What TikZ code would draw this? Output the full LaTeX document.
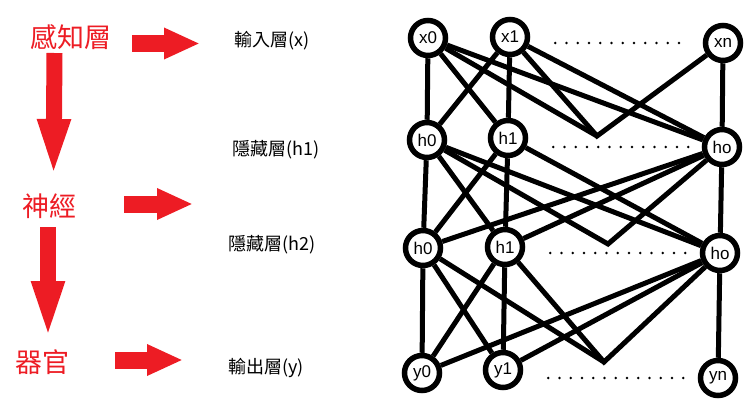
\documentclass[tikz,border=0pt]{standalone}
\usepackage{fontspec}
\setmainfont{Noto Sans CJK TC}
\newfontfamily\unitfont{Liberation Sans}
\usetikzlibrary{arrows.meta}
\definecolor{paintred}{RGB}{237,28,36}

\begin{document}
\begin{tikzpicture}[
        x=1pt, y=-1pt,
        unit/.style={
            draw,
            circle,
            line width=5.5pt,
            minimum size=35pt,
            inner sep=0pt,
            font=\unitfont\fontsize{17}{17}\selectfont
        },
        link/.style={line width=5pt},
        redlabel/.style={text=paintred, font=\fontsize{27}{30}\selectfont},
        layerlabel/.style={font=\fontsize{18}{20}\selectfont},
        rightarrow/.style={
            paintred,
            line width=17pt,
            -{Triangle[length=36pt, width=29pt]}
        },
        downarrow/.style={
            paintred,
            line width=16pt,
            -{Triangle[length=64pt, width=28pt]}
        },
        dotrow/.style={
            line width=2.6pt,
            line cap=round,
            dash pattern=on 0pt off 11.25pt,
            shorten <=25pt,
            shorten >=13pt
        }
    ]
    \useasboundingbox (0,0) rectangle (752,405);

    % left side
    \node[redlabel] (perc) at (71,37) {感知層};
    \node[redlabel] (nerve) at (50,206) {神經};
    \node[redlabel] (organ) at (42,362) {器官};

    \node[layerlabel] (inlab) at (272,41) {輸入層(x)};
    \node[layerlabel] (hidlabA) at (276,150) {隱藏層(h1)};
    \node[layerlabel] (hidlabB) at (272,245) {隱藏層(h2)};
    \node[layerlabel] (outlab) at (266,368) {輸出層(y)};

    \draw[downarrow] ([shift={(-16.5,16)}]perc.center) -- ([shift={(3.5,-23)}]nerve.center);
    \draw[downarrow] ([shift={(-2,21)}]nerve.center) -- ([shift={(6,-17)}]organ.center);

    \draw[rightarrow] ([shift={(61,6.5)}]perc.center) -- ++(68,0);
    \draw[rightarrow] ([shift={(74,-2)}]nerve.center) -- ++(69,0);
    \draw[rightarrow] ([shift={(73,-2)}]organ.center) -- ++(68,0);

    % network
    \node[unit] (x0) at (428,38) {x0};
    \node[unit] (x1) at (510,37) {x1};
    \node[unit] (xn) at (723,43) {xn};
    \node[unit] (ha0) at (427,140) {h0};
    \node[unit] (ha1) at (508,138) {h1};
    \node[unit] (hao) at (722,147) {ho};
    \node[unit] (hb0) at (423,248) {h0};
    \node[unit] (hb1) at (505,247) {h1};
    \node[unit] (hbo) at (720,253) {ho};
    \node[unit] (y0) at (422,373) {y0};
    \node[unit] (y1) at (503,370) {y1};
    \node[unit] (yn) at (718,378) {yn};

    \coordinate (va) at (597,136);
    \coordinate (vb) at (608,244);
    \coordinate (vc) at (604,362);

    \foreach \a in {x0,x1}
        \foreach \b in {ha0,ha1,hao}
            \draw[link] (\a) -- (\b);
    \draw[link] (x0) -- (va);
    \draw[link] (x1) -- (va) -- (xn);
    \draw[link] (xn) -- (hao);

    \foreach \a in {ha0,ha1,hao}
        \foreach \b in {hb0,hb1,hbo}
            \draw[link] (\a) -- (\b);
    \draw[link] (ha0) -- (vb) -- (hao);

    \foreach \a in {hb0,hb1,hbo}
        \foreach \b in {y0,y1}
            \draw[link] (\a) -- (\b);
    \draw[link] (hb0) -- (vc);
    \draw[link] (hb1) -- (vc) -- (hbo);
    \draw[link] (hbo) -- (yn);

    \draw[dotrow] (x1.east |- xn) -- (xn.west);
    \draw[dotrow] (ha1.east |- hao) -- (hao.west);
    \draw[dotrow] (hb1.east |- hbo) -- (hbo.west);
    \draw[dotrow] (y1.east |- yn) -- (yn.west);

\end{tikzpicture}
\end{document}
